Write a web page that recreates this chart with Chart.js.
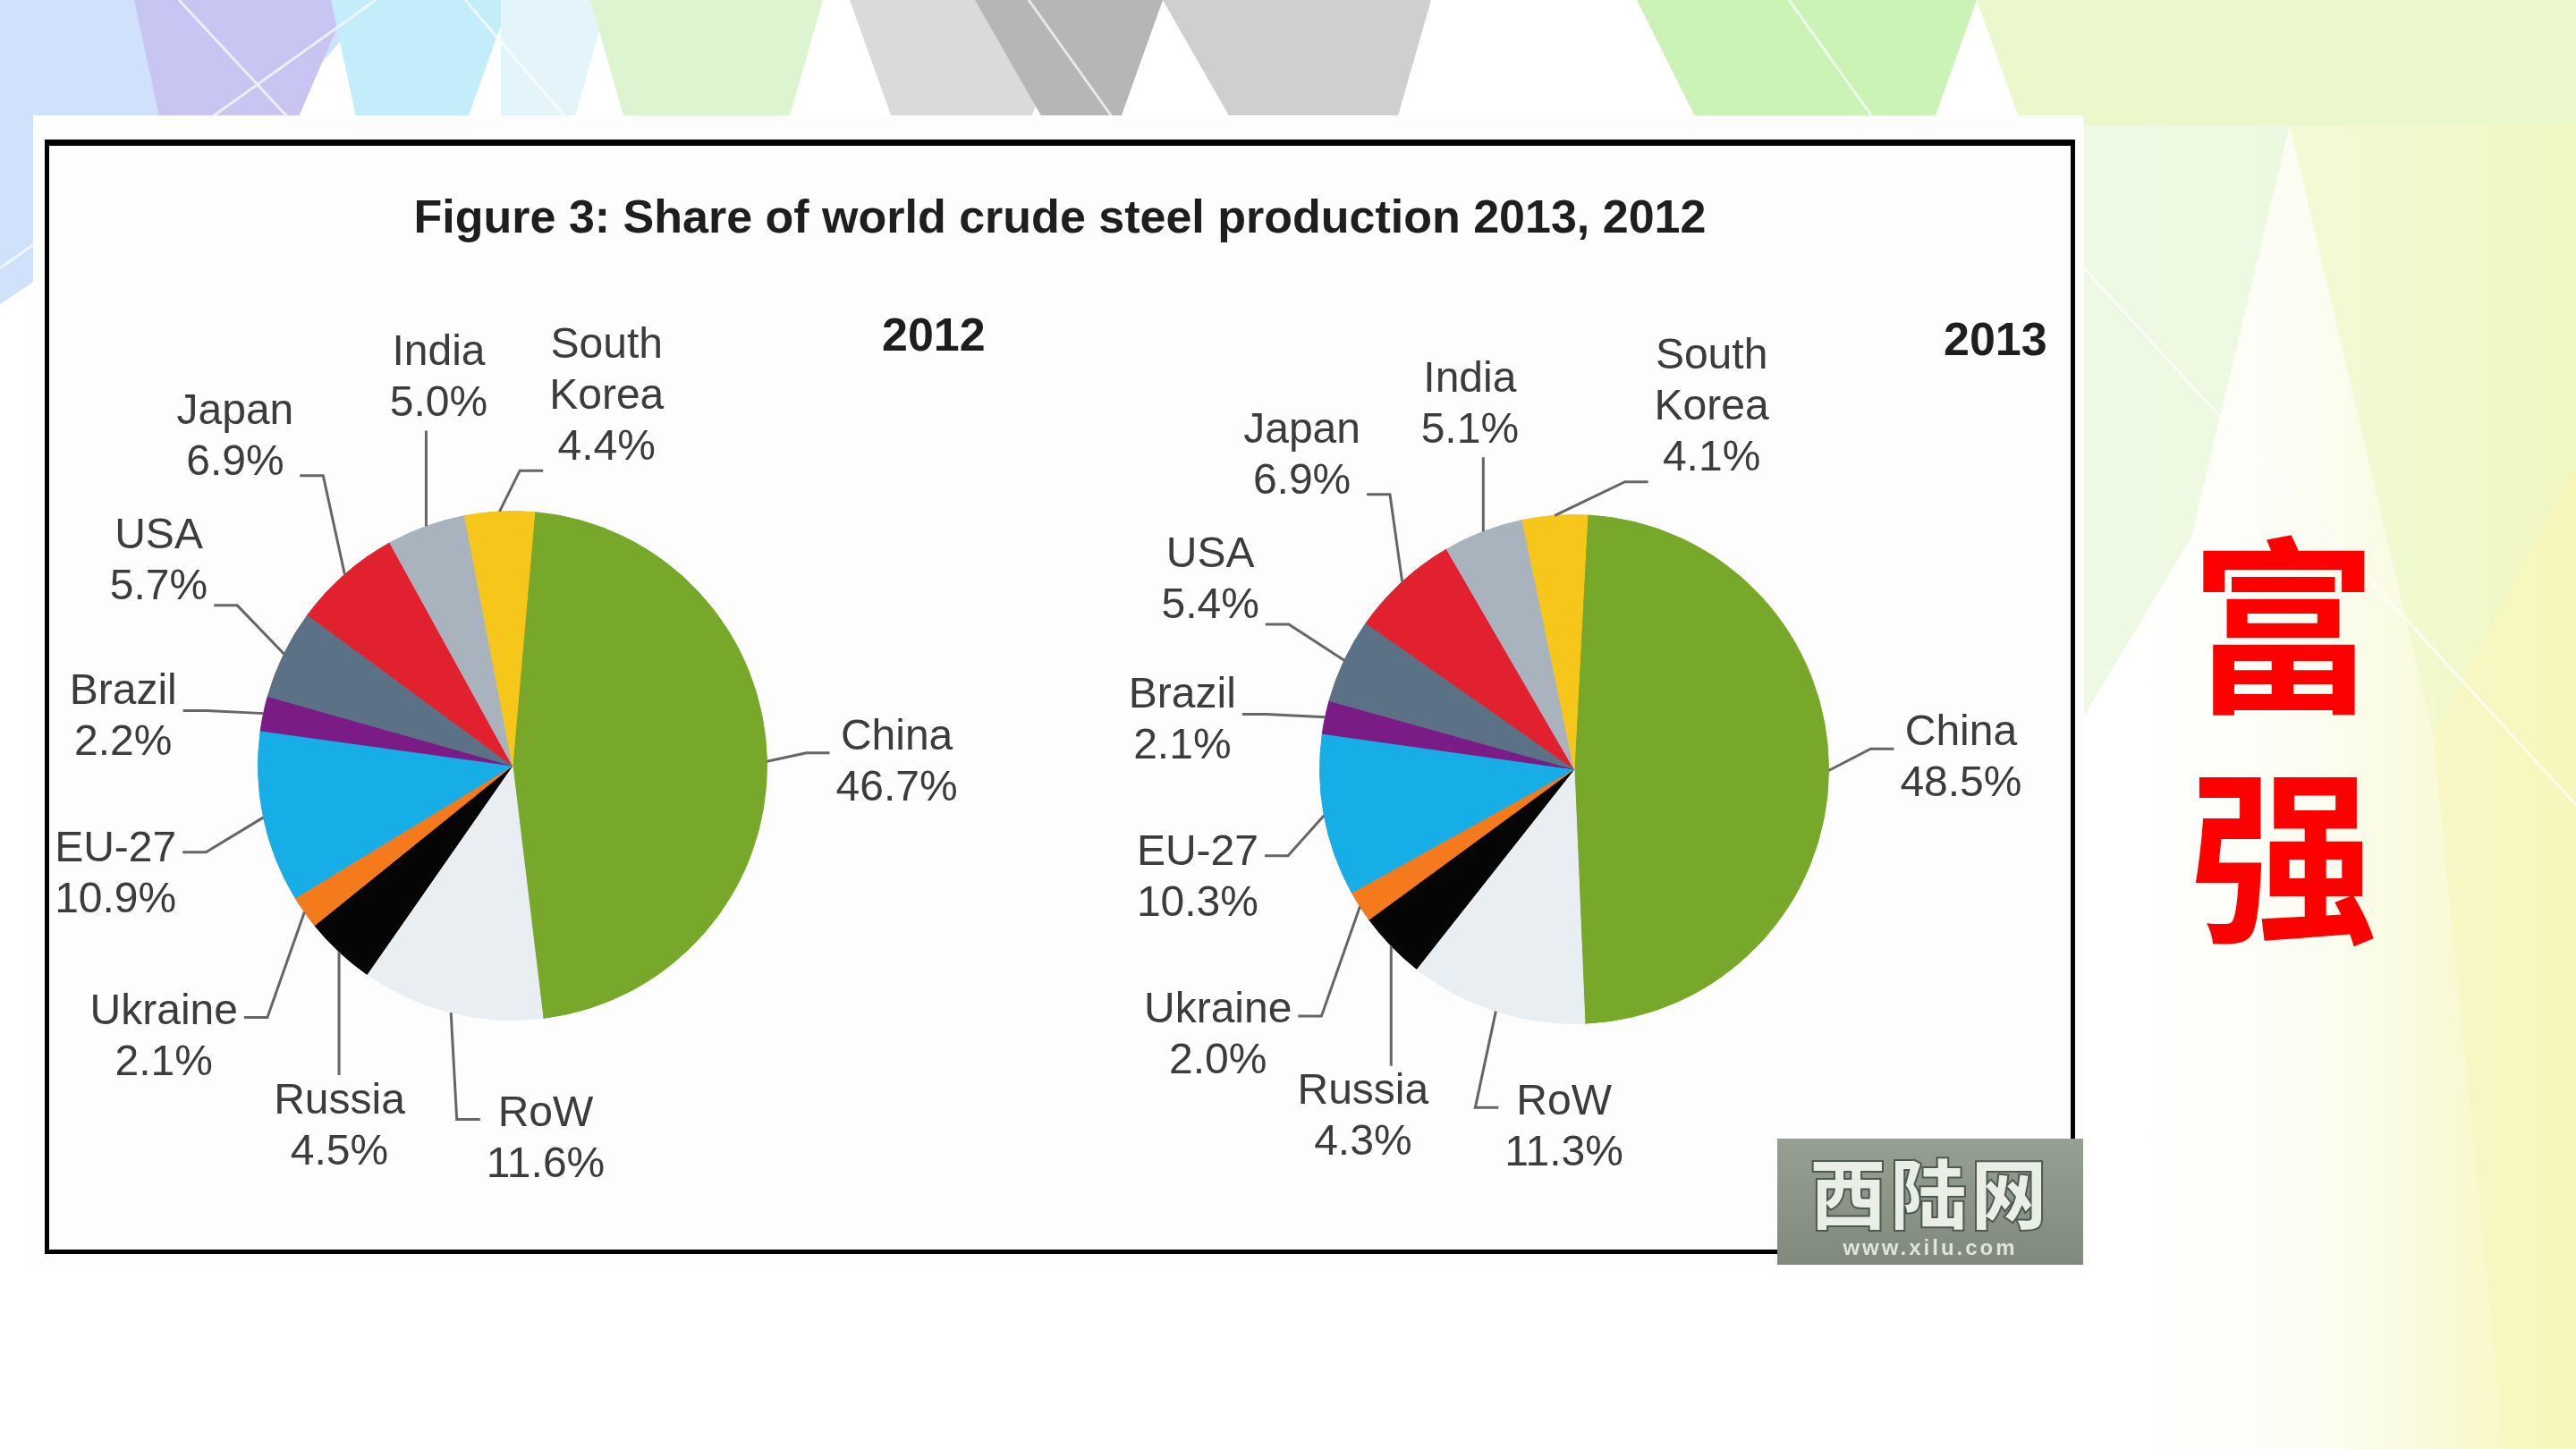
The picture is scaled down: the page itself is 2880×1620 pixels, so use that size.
<!DOCTYPE html>
<html>
<head>
<meta charset="utf-8">
<script src="https://cdn.jsdelivr.net/npm/chart.js@4.4.0/dist/chart.umd.min.js"></script>
<style>
  body { margin:0; width:2880px; height:1620px; overflow:hidden; background:#fff; position:relative; font-family:"Liberation Sans", Arial, sans-serif; }
  #bg { position:absolute; left:0; top:0; }
  .sheet { position:absolute; left:37px; top:129px; width:2292px; height:1285px; background:#fdfdfd; }
  .frame { position:absolute; left:50px; top:156px; width:2260px; height:1234px; border:5px solid #000; border-top-width:7px; background:#fdfdfd; }
  .title { position:absolute; left:50px; width:2270px; top:212px; text-align:center; font-weight:bold; font-size:52px; color:#1e1e1e; }
  .year { position:absolute; font-weight:bold; font-size:52px; color:#1e1e1e; }
  .pie { position:absolute; width:1100px; height:1100px; }
  .slogan { position:absolute; left:2403px; top:560px; width:300px; text-align:center; font-family:"Noto Sans CJK SC", sans-serif; font-weight:700; font-size:210px; line-height:257px; color:#ff0000; }
  .mark { position:absolute; left:1987px; top:1273px; width:342px; height:141px; background:linear-gradient(180deg,#96a092,#7f8a7d); text-align:center; }
  .mark .cn { font-family:"Noto Sans CJK SC", sans-serif; font-weight:900; font-size:86px; line-height:100px; color:#e9eee7; letter-spacing:4px; -webkit-text-stroke:2px #4f5a4f; margin-top:8px; }
  .mark .en { font-weight:bold; font-size:24px; color:#dfe5dc; letter-spacing:3px; }
</style>
</head>
<body>
<svg id="bg" width="2880" height="1620">
  <defs>
    <linearGradient id="rightGlow" x1="0" y1="0" x2="1" y2="0">
      <stop offset="0" stop-color="#ffffff" stop-opacity="0"/>
      <stop offset="0.5" stop-color="#f8fce8" stop-opacity="0.6"/>
      <stop offset="1" stop-color="#f7f5b0" stop-opacity="1"/>
    </linearGradient>
  </defs>
  <rect x="2300" y="0" width="580" height="1620" fill="url(#rightGlow)"/>
  <polygon points="0,0 420,0 300,140 0,340" fill="#cfe1fb"/>
  <polygon points="150,0 390,0 330,140 180,140" fill="#c9c5f3"/>
  <polygon points="370,0 570,0 520,140 400,140" fill="#c3edfb"/>
  <polygon points="560,0 680,0 640,140 560,140" fill="#e3f4fb"/>
  <polygon points="660,0 920,0 880,140 700,140" fill="#dcf4d0"/>
  <polygon points="950,0 1200,0 1150,140 1000,140" fill="#dadada"/>
  <polygon points="1090,0 1300,0 1250,140 1170,140" fill="#b6b6b6"/>
  <polygon points="1300,0 1600,0 1560,140 1380,140" fill="#cfcfcf"/>
  <polygon points="1830,0 2210,0 2160,140 1900,140" fill="#cbf3b6"/>
  <polygon points="2210,0 2880,0 2880,140 2260,140" fill="#eaf8cc"/>
  <polygon points="2330,140 2560,140 2450,600 2330,800" fill="#e6f7d6" opacity="0.7"/>
  <polygon points="2560,140 2880,140 2880,520 2720,820" fill="#eef8c8" opacity="0.7"/>
  <polygon points="2720,820 2880,520 2880,1620 2800,1620" fill="#f7f6bf" opacity="0.7"/>
  <g stroke="#ffffff" stroke-width="3" opacity="0.7">
    <line x1="0" y1="300" x2="420" y2="0"/>
    <line x1="200" y1="0" x2="330" y2="140"/>
    <line x1="520" y1="0" x2="640" y2="140"/>
    <line x1="1150" y1="0" x2="1250" y2="140"/>
    <line x1="2000" y1="0" x2="2100" y2="140"/>
    <line x1="2330" y1="300" x2="2880" y2="900"/>
  </g>
</svg>

<div class="sheet"></div>
<div class="frame"></div>
<div class="title">Figure 3: Share of world crude steel production 2013, 2012</div>
<div class="year" style="left:986px; top:344px;">2012</div>
<div class="year" style="left:2173px; top:349px;">2013</div>

<div class="pie" style="left:23px; top:306px;"><canvas id="pie2012"></canvas></div>
<div class="pie" style="left:1210px; top:310px;"><canvas id="pie2013"></canvas></div>

<div class="slogan">富<br>强</div>
<div class="mark"><div class="cn">西陆网</div><div class="en">www.xilu.com</div></div>

<script>
// data, clockwise from the top
const categories = ['China', 'RoW', 'Russia', 'Ukraine', 'EU-27', 'Brazil', 'USA', 'Japan', 'India', 'South Korea'];
const share2012 = [46.7, 11.6, 4.5, 2.1, 10.9, 2.2, 5.7, 6.9, 5.0, 4.4];
const share2013 = [48.5, 11.3, 4.3, 2.0, 10.3, 2.1, 5.4, 6.9, 5.1, 4.1];

const sliceColors = ['#78a82a', '#e9eef2', '#050505', '#f47a1c', '#17ade6', '#7a1b86', '#5b7185', '#e1222e', '#a9b3be', '#f6c61a'];

// label placement, in units of pie radius from the centre
const labelPos2012 = [[1.51,-0.01],[0.13,1.47],[-0.68,1.42],[-1.37,1.07],[-1.56,0.43],[-1.53,-0.19],[-1.39,-0.80],[-1.09,-1.29],[-0.29,-1.52],[0.37,-1.45]];
const labelPos2013 = [[1.52,-0.04],[-0.04,1.41],[-0.83,1.37],[-1.40,1.05],[-1.48,0.43],[-1.54,-0.19],[-1.43,-0.74],[-1.07,-1.23],[-0.41,-1.43],[0.54,-1.42]];
// which side of the text the leader line meets, and at what line depth
const leaderSide = [['left',0.8],['left',0.6],['top'],['right',0.6],['right',0.55],['right',0.87],['right',1.85],['right',1.75],['bottom'],['left',2.95]];

const outerLabels = {
  id: 'outerLabels',
  afterDraw(chart, args, opts) {
    const ctx = chart.ctx;
    const meta = chart.getDatasetMeta(0);
    const values = chart.data.datasets[0].data;
    const lh = opts.lineHeight, gap = 7, elbow = 26;
    ctx.save();
    ctx.font = opts.font;
    ctx.textAlign = 'center';
    ctx.textBaseline = 'middle';
    ctx.strokeStyle = '#666';
    ctx.lineWidth = 3;
    meta.data.forEach((arc, i) => {
      const p = arc.getProps(['x','y','startAngle','endAngle','outerRadius'], true);
      const mid = (p.startAngle + p.endAngle) / 2;
      const ex = p.x + Math.cos(mid) * p.outerRadius;
      const ey = p.y + Math.sin(mid) * p.outerRadius;
      const lines = chart.data.labels[i].split(' ').concat([values[i].toFixed(1) + '%']);
      const cx = p.x + opts.pos[i][0] * p.outerRadius;
      const cy = p.y + opts.pos[i][1] * p.outerRadius;
      const top = cy - lines.length * lh / 2;
      const w = Math.max(...lines.map(t => ctx.measureText(t).width));
      ctx.fillStyle = '#3c3c3c';
      lines.forEach((t, k) => ctx.fillText(t, cx, top + lh * (k + 0.5)));

      const side = leaderSide[i];
      ctx.beginPath();
      ctx.moveTo(ex, ey);
      if (side[0] === 'top') {
        ctx.lineTo(ex, top - gap + 6);
      } else if (side[0] === 'bottom') {
        ctx.lineTo(ex, top + lines.length * lh + gap - 6);
      } else {
        const ay = top + lh * side[1];
        const ax = side[0] === 'right' ? cx + w / 2 + gap : cx - w / 2 - gap;
        const bx = side[0] === 'right' ? ax + elbow : ax - elbow;
        ctx.lineTo(bx, ay);
        ctx.lineTo(ax, ay);
      }
      ctx.stroke();
    });
    ctx.restore();
  }
};

function makePie(id, values, rotation, pos) {
  return new Chart(document.getElementById(id), {
    type: 'pie',
    data: {
      labels: categories,
      datasets: [{ data: values, backgroundColor: sliceColors, borderColor: sliceColors, borderWidth: 1 }]
    },
    options: {
      responsive: true,
      maintainAspectRatio: false,
      animation: false,
      rotation: rotation,
      layout: { padding: 265 },
      plugins: {
        legend: { display: false },
        tooltip: { enabled: false },
        outerLabels: { pos: pos, font: '48px "Liberation Sans", Arial, sans-serif', lineHeight: 57 }
      }
    },
    plugins: [outerLabels]
  });
}

makePie('pie2012', share2012, 5, labelPos2012);
makePie('pie2013', share2013, 3, labelPos2013);
</script>
</body>
</html>
